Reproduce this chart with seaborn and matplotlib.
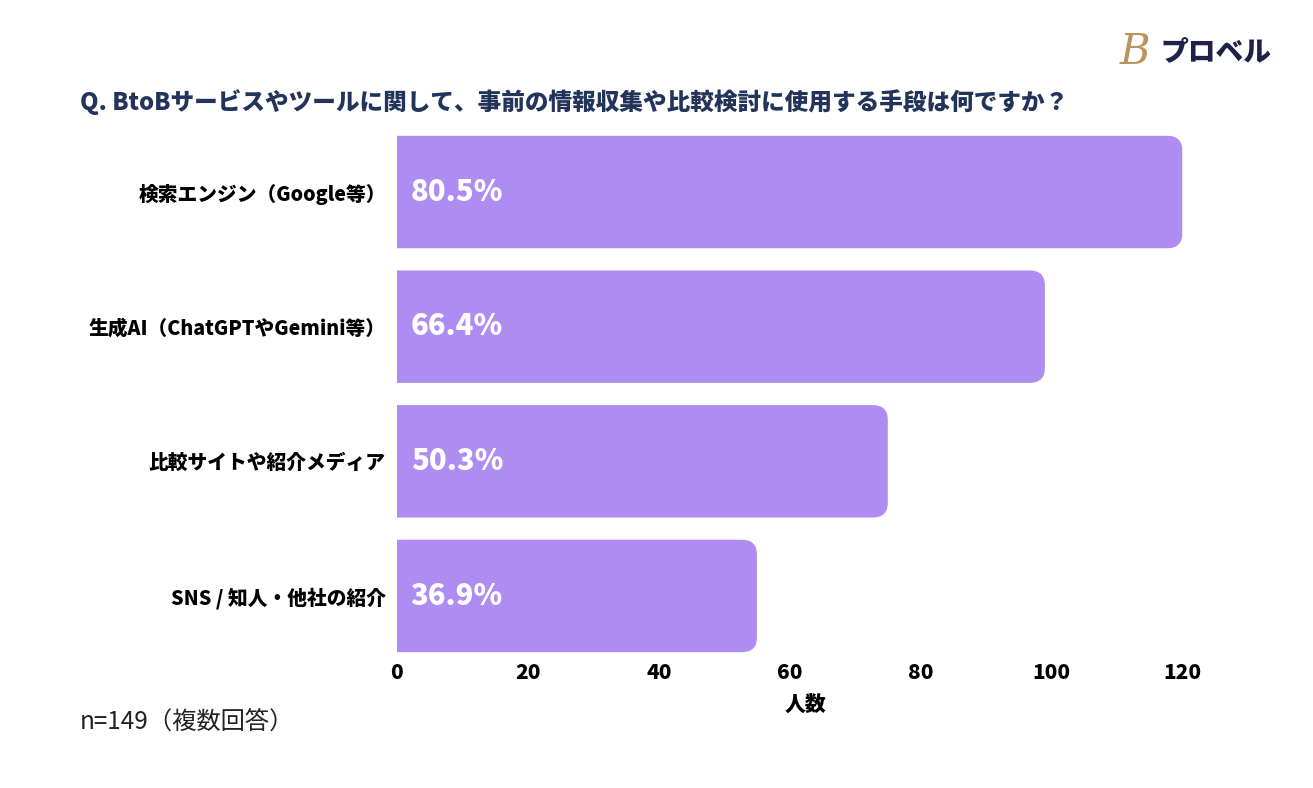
import numpy as np
import pandas as pd
import matplotlib
matplotlib.use("Agg")
import matplotlib.pyplot as plt
from matplotlib.path import Path
from matplotlib.patches import PathPatch
import seaborn as sns

# data
categories = ["検索エンジン（Google等）", "生成AI（ChatGPTやGemini等）",
              "比較サイトや紹介メディア", "SNS / 知人・他社の紹介"]
counts = [120, 99, 75, 55]
pct_labels = ["80.5%", "66.4%", "50.3%", "36.9%"]
x_ticks = [0, 20, 40, 60, 80, 100, 120]

title = "Q. BtoBサービスやツールに関して、事前の情報収集や比較検討に使用する手段は何ですか？"
note = "n=149（複数回答）"

BAR = "#ae8cf2"
NAVY = "#22345a"

sns.set_theme(style="white")
plt.rcParams["font.family"] = ["Noto Sans CJK JP", "DejaVu Sans"]

df = pd.DataFrame({"cat": categories, "n": counts})

fig = plt.figure(figsize=(13.13, 7.88), dpi=100)
ax = fig.add_axes([397 / 1313, 1 - 663.3 / 788, (1215 - 397) / 1313, (663.3 - 124.7) / 788])
sns.barplot(data=df, y="cat", x="n", color=BAR, width=0.835, ax=ax, saturation=1)
ax.set_xlim(0, 125)
ax.set_ylim(3.5, -0.5)

# rounded right corners only
rx, ry = 2.3, 0.11
for p in list(ax.patches):
    x0, y0 = p.get_x(), p.get_y()
    w, h = p.get_width(), p.get_height()
    x1, y1 = x0 + w, y0 + h
    verts = [(x0, y0), (x1 - rx, y0), (x1, y0), (x1, y0 + ry),
             (x1, y1 - ry), (x1, y1), (x1 - rx, y1), (x0, y1), (x0, y0)]
    codes = [Path.MOVETO, Path.LINETO, Path.CURVE3, Path.CURVE3,
             Path.LINETO, Path.CURVE3, Path.CURVE3, Path.LINETO, Path.CLOSEPOLY]
    p.set_visible(False)
    ax.add_patch(PathPatch(Path(verts, codes), facecolor=BAR, edgecolor="none"))

for i, lab in enumerate(pct_labels):
    ax.text(2.1, i, lab, color="white", fontsize=21, fontweight="black",
            va="center", ha="left")

sns.despine(ax=ax, left=True, bottom=True)
ax.set_xticks(x_ticks)
ax.tick_params(axis="x", length=0, pad=0, labelsize=15)
ax.tick_params(axis="y", length=0, pad=8, labelsize=14.2)
for t in ax.get_xticklabels() + ax.get_yticklabels():
    t.set_fontweight("black")
    t.set_color("black")
ax.set_ylabel("")
ax.set_xlabel("人数", fontsize=15, fontweight="black", color="black", labelpad=8)

fig.text(80 / 1313, 1 - 102 / 788, title, fontsize=17, fontweight="black",
         color=NAVY, va="center", ha="left")
fig.text(80 / 1313, 1 - 722 / 788, note, fontsize=17.5, color="#222222",
         va="center", ha="left")

# logo
fig.text(1135 / 1313, 1 - 52 / 788, "B", fontsize=30, color="#b8955a",
         family="DejaVu Serif", style="italic", va="center", ha="center")
fig.text(1160 / 1313, 1 - 52 / 788, "プロベル", fontsize=20, fontweight="black",
         color="#1e2149", va="center", ha="left")

fig.savefig("out.png", dpi=100, facecolor="white")
